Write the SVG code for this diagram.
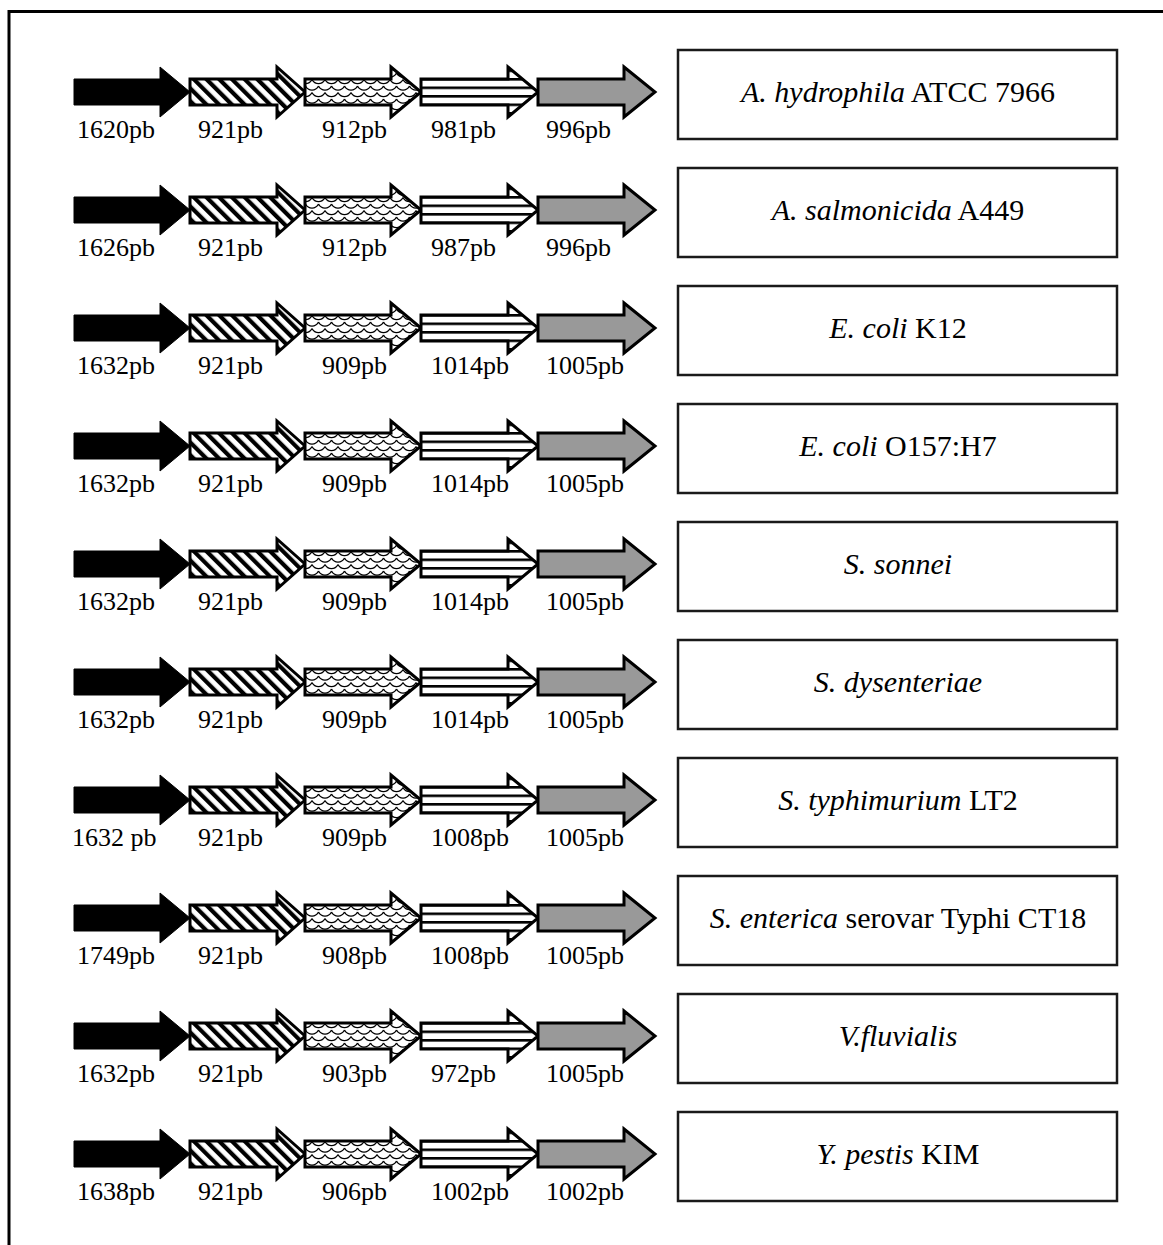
<svg xmlns="http://www.w3.org/2000/svg" xmlns:xlink="http://www.w3.org/1999/xlink" width="1163" height="1245" viewBox="0 0 1163 1245">
<style>
.lbl{font-family:"Liberation Serif","Times New Roman",serif;font-size:26px;fill:#000}
.name{font-family:"Liberation Serif","Times New Roman",serif;font-size:30px;fill:#000;text-anchor:middle}
.it{font-style:italic}
.box{fill:#fff;stroke:#1a1a1a;stroke-width:2.5}
.gene{stroke:#000;stroke-width:3;stroke-linejoin:miter}
.g1{fill:#000;stroke-width:1}
.g2{fill:url(#diag)}
.g3{fill:url(#scale)}
.g4{fill:url(#hstripe)}
.g5{fill:#999}
</style>
<defs>
<pattern id="diag" patternUnits="userSpaceOnUse" width="9" height="9" patternTransform="rotate(-45)">
<rect width="9" height="9" fill="#fff"/>
<rect width="4.2" height="9" fill="#000"/>
</pattern>
<pattern id="scale" patternUnits="userSpaceOnUse" x="0" y="-13" width="13" height="13">
<rect width="13" height="13" fill="#fff"/>
<path d="M0,0.5 C3,6 10,6 13,0.5 M-6.5,7 C-3.5,12.5 3.5,12.5 6.5,7 M6.5,7 C9.5,12.5 16.5,12.5 19.5,7" fill="none" stroke="#000" stroke-width="1.3"/>
</pattern>
<pattern id="hstripe" patternUnits="userSpaceOnUse" x="0" y="-5.5" width="10" height="8.5">
<rect width="10" height="8.5" fill="#fff"/>
<rect width="10" height="2.6" fill="#000"/>
</pattern>
<path id="a1" d="M74,-13 H160 V-25 L190,0 L160,25 V13 H74 Z"/>
<path id="a2" d="M190,-13 H277 V-25 L305,0 L277,25 V13 H190 Z"/>
<path id="a3" d="M305,-13 H391 V-25 L421,0 L391,25 V13 H305 Z"/>
<path id="a4" d="M421,-13 H508 V-25 L538,0 L508,25 V13 H421 Z"/>
<path id="a5" d="M538,-13 H624 V-25 L655,0 L624,25 V13 H538 Z"/>
<g id="genes">
<use href="#a1" class="gene g1"/>
<use href="#a2" class="gene g2"/>
<use href="#a3" class="gene g3"/>
<use href="#a4" class="gene g4"/>
<use href="#a5" class="gene g5"/>
</g>
</defs>
<rect width="1163" height="1245" fill="#fff"/>
<path d="M9,1245 V11.5 H1163" fill="none" stroke="#000" stroke-width="3"/>

<g id="row1" transform="translate(0,92)">
<use href="#genes"/>
<text class="lbl" y="46"><tspan x="77">1620pb</tspan><tspan x="198">921pb</tspan><tspan x="322">912pb</tspan><tspan x="431">981pb</tspan><tspan x="546">996pb</tspan></text>
<rect class="box" x="678" y="-42" width="439" height="89"/>
<text class="name" x="898" y="10"><tspan class="it">A. hydrophila</tspan> ATCC 7966</text>
</g>
<g id="row2" transform="translate(0,210)">
<use href="#genes"/>
<text class="lbl" y="46"><tspan x="77">1626pb</tspan><tspan x="198">921pb</tspan><tspan x="322">912pb</tspan><tspan x="431">987pb</tspan><tspan x="546">996pb</tspan></text>
<rect class="box" x="678" y="-42" width="439" height="89"/>
<text class="name" x="898" y="10"><tspan class="it">A. salmonicida</tspan> A449</text>
</g>
<g id="row3" transform="translate(0,328)">
<use href="#genes"/>
<text class="lbl" y="46"><tspan x="77">1632pb</tspan><tspan x="198">921pb</tspan><tspan x="322">909pb</tspan><tspan x="431">1014pb</tspan><tspan x="546">1005pb</tspan></text>
<rect class="box" x="678" y="-42" width="439" height="89"/>
<text class="name" x="898" y="10"><tspan class="it">E. coli</tspan> K12</text>
</g>
<g id="row4" transform="translate(0,446)">
<use href="#genes"/>
<text class="lbl" y="46"><tspan x="77">1632pb</tspan><tspan x="198">921pb</tspan><tspan x="322">909pb</tspan><tspan x="431">1014pb</tspan><tspan x="546">1005pb</tspan></text>
<rect class="box" x="678" y="-42" width="439" height="89"/>
<text class="name" x="898" y="10"><tspan class="it">E. coli</tspan> O157:H7</text>
</g>
<g id="row5" transform="translate(0,564)">
<use href="#genes"/>
<text class="lbl" y="46"><tspan x="77">1632pb</tspan><tspan x="198">921pb</tspan><tspan x="322">909pb</tspan><tspan x="431">1014pb</tspan><tspan x="546">1005pb</tspan></text>
<rect class="box" x="678" y="-42" width="439" height="89"/>
<text class="name" x="898" y="10"><tspan class="it">S. sonnei</tspan></text>
</g>
<g id="row6" transform="translate(0,682)">
<use href="#genes"/>
<text class="lbl" y="46"><tspan x="77">1632pb</tspan><tspan x="198">921pb</tspan><tspan x="322">909pb</tspan><tspan x="431">1014pb</tspan><tspan x="546">1005pb</tspan></text>
<rect class="box" x="678" y="-42" width="439" height="89"/>
<text class="name" x="898" y="10"><tspan class="it">S. dysenteriae</tspan></text>
</g>
<g id="row7" transform="translate(0,800)">
<use href="#genes"/>
<text class="lbl" y="46"><tspan x="72">1632 pb</tspan><tspan x="198">921pb</tspan><tspan x="322">909pb</tspan><tspan x="431">1008pb</tspan><tspan x="546">1005pb</tspan></text>
<rect class="box" x="678" y="-42" width="439" height="89"/>
<text class="name" x="898" y="10"><tspan class="it">S. typhimurium</tspan> LT2</text>
</g>
<g id="row8" transform="translate(0,918)">
<use href="#genes"/>
<text class="lbl" y="46"><tspan x="77">1749pb</tspan><tspan x="198">921pb</tspan><tspan x="322">908pb</tspan><tspan x="431">1008pb</tspan><tspan x="546">1005pb</tspan></text>
<rect class="box" x="678" y="-42" width="439" height="89"/>
<text class="name" x="898" y="10"><tspan class="it">S. enterica</tspan> serovar Typhi CT18</text>
</g>
<g id="row9" transform="translate(0,1036)">
<use href="#genes"/>
<text class="lbl" y="46"><tspan x="77">1632pb</tspan><tspan x="198">921pb</tspan><tspan x="322">903pb</tspan><tspan x="431">972pb</tspan><tspan x="546">1005pb</tspan></text>
<rect class="box" x="678" y="-42" width="439" height="89"/>
<text class="name" x="898" y="10"><tspan class="it">V.fluvialis</tspan></text>
</g>
<g id="row10" transform="translate(0,1154)">
<use href="#genes"/>
<text class="lbl" y="46"><tspan x="77">1638pb</tspan><tspan x="198">921pb</tspan><tspan x="322">906pb</tspan><tspan x="431">1002pb</tspan><tspan x="546">1002pb</tspan></text>
<rect class="box" x="678" y="-42" width="439" height="89"/>
<text class="name" x="898" y="10"><tspan class="it">Y. pestis</tspan> KIM</text>
</g>
</svg>
